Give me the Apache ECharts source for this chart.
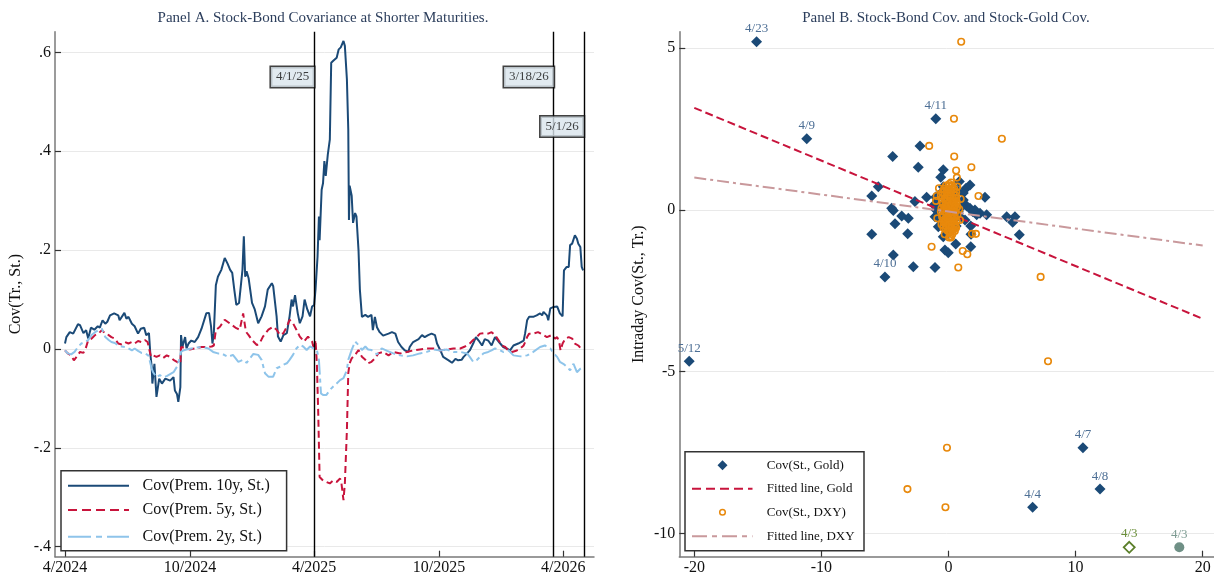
<!DOCTYPE html>
<html>
<head>
<meta charset="utf-8">
<script src="https://cdn.jsdelivr.net/npm/echarts@6/dist/echarts.min.js"></script>
<style>html,body{margin:0;padding:0;background:#fff;}#c{width:1214px;height:574px;}</style>
</head>
<body>
<div id="c"></div>
<script>
// ---------------- DATA ----------------
const tenYear = [['2024-04-01',0.011],['2024-04-03',0.024],['2024-04-08',0.034],['2024-04-13',0.031],['2024-04-20',0.050],['2024-04-23',0.048],['2024-04-28',0.032],['2024-05-02',0.038],['2024-05-05',0.021],['2024-05-09',0.043],['2024-05-14',0.039],['2024-05-19',0.046],['2024-05-22',0.043],['2024-05-26',0.058],['2024-05-30',0.051],['2024-06-02',0.055],['2024-06-06',0.068],['2024-06-08',0.065],['2024-06-12',0.072],['2024-06-18',0.068],['2024-06-20',0.058],['2024-06-27',0.073],['2024-06-30',0.061],['2024-07-03',0.065],['2024-07-08',0.051],['2024-07-12',0.046],['2024-07-17',0.031],['2024-07-21',0.041],['2024-07-26',0.043],['2024-07-29',0.028],['2024-08-02',0.032],['2024-08-04',-0.010],['2024-08-06',-0.036],['2024-08-07',-0.070],['2024-08-10',-0.030],['2024-08-13',-0.097],['2024-08-17',-0.060],['2024-08-21',-0.070],['2024-08-26',-0.060],['2024-09-02',-0.064],['2024-09-07',-0.057],['2024-09-09',-0.084],['2024-09-12',-0.091],['2024-09-14',-0.107],['2024-09-17',-0.077],['2024-09-18',0.028],['2024-09-20',0.004],['2024-09-24',0.024],['2024-09-26',0.001],['2024-09-29',0.011],['2024-10-03',0.017],['2024-10-08',0.014],['2024-10-13',0.024],['2024-10-18',0.041],['2024-10-20',0.038],['2024-10-25',0.072],['2024-10-29',0.073],['2024-11-01',0.045],['2024-11-03',0.011],['2024-11-05',0.031],['2024-11-08',0.129],['2024-11-11',0.146],['2024-11-16',0.160],['2024-11-21',0.184],['2024-11-25',0.173],['2024-11-29',0.160],['2024-12-02',0.154],['2024-12-05',0.120],['2024-12-08',0.089],['2024-12-12',0.093],['2024-12-15',0.133],['2024-12-17',0.160],['2024-12-19',0.228],['2024-12-21',0.146],['2024-12-23',0.157],['2024-12-26',0.143],['2024-12-31',0.093],['2025-01-04',0.080],['2025-01-09',0.052],['2025-01-14',0.066],['2025-01-19',0.086],['2025-01-23',0.120],['2025-01-29',0.133],['2025-01-31',0.127],['2025-02-02',0.127],['2025-02-05',0.066],['2025-02-07',0.025],['2025-02-11',0.015],['2025-02-15',0.028],['2025-02-20',0.032],['2025-02-24',0.066],['2025-02-27',0.100],['2025-03-01',0.086],['2025-03-04',0.109],['2025-03-08',0.072],['2025-03-11',0.052],['2025-03-15',0.066],['2025-03-18',0.100],['2025-03-22',0.080],['2025-03-26',0.066],['2025-03-29',0.086],['2025-04-01',0.089],['2025-04-03',0.120],['2025-04-06',0.187],['2025-04-08',0.268],['2025-04-09',0.220],['2025-04-12',0.322],['2025-04-14',0.335],['2025-04-16',0.380],['2025-04-18',0.350],['2025-04-21',0.393],['2025-04-24',0.424],['2025-04-26',0.579],['2025-04-29',0.583],['2025-05-04',0.589],['2025-05-07',0.606],['2025-05-10',0.610],['2025-05-14',0.623],['2025-05-16',0.613],['2025-05-19',0.545],['2025-05-21',0.444],['2025-05-22',0.261],['2025-05-23',0.330],['2025-05-26',0.310],['2025-05-28',0.255],['2025-05-31',0.275],['2025-06-02',0.268],['2025-06-05',0.200],['2025-06-07',0.120],['2025-06-10',0.065],['2025-06-15',0.069],['2025-06-19',0.065],['2025-06-24',0.069],['2025-06-26',0.038],['2025-06-29',0.065],['2025-07-02',0.044],['2025-07-06',0.034],['2025-07-11',0.027],['2025-07-19',0.031],['2025-07-24',0.034],['2025-07-29',0.031],['2025-08-02',0.014],['2025-08-07',0.004],['2025-08-12',-0.003],['2025-08-17',-0.006],['2025-08-19',0.004],['2025-08-24',0.014],['2025-09-01',0.020],['2025-09-06',0.028],['2025-09-10',0.024],['2025-09-15',0.028],['2025-09-20',0.031],['2025-09-25',0.028],['2025-09-28',0.011],['2025-10-03',-0.003],['2025-10-07',-0.016],['2025-10-15',-0.023],['2025-10-20',-0.028],['2025-10-25',-0.020],['2025-10-29',-0.023],['2025-11-03',-0.022],['2025-11-06',-0.016],['2025-11-11',-0.009],['2025-11-15',-0.003],['2025-11-20',0.011],['2025-11-24',0.024],['2025-11-28',0.017],['2025-12-03',0.007],['2025-12-07',0.020],['2025-12-12',0.017],['2025-12-17',0.007],['2025-12-22',0.024],['2025-12-29',0.012],['2026-01-03',0.004],['2026-01-08',0.001],['2026-01-13',-0.003],['2026-01-18',0.007],['2026-01-25',0.011],['2026-02-02',0.017],['2026-02-04',0.031],['2026-02-07',0.058],['2026-02-10',0.065],['2026-02-16',0.065],['2026-02-21',0.068],['2026-02-26',0.072],['2026-03-01',0.068],['2026-03-03',0.075],['2026-03-08',0.068],['2026-03-10',0.058],['2026-03-13',0.082],['2026-03-18',0.085],['2026-03-23',0.086],['2026-03-25',0.084],['2026-03-27',0.072],['2026-03-31',0.066],['2026-04-02',0.159],['2026-04-06',0.166],['2026-04-09',0.166],['2026-04-11',0.210],['2026-04-14',0.213],['2026-04-16',0.212],['2026-04-18',0.230],['2026-04-21',0.223],['2026-04-23',0.213],['2026-04-26',0.206],['2026-04-28',0.166],['2026-04-30',0.159]];

const fiveYear = [['2024-04-01',-0.003],['2024-04-05',-0.009],['2024-04-10',-0.013],['2024-04-14',-0.023],['2024-04-18',-0.016],['2024-04-23',-0.006],['2024-04-28',-0.008],['2024-05-02',0.004],['2024-05-05',0.018],['2024-05-10',0.021],['2024-05-15',0.028],['2024-05-20',0.031],['2024-05-25',0.038],['2024-05-30',0.031],['2024-06-04',0.028],['2024-06-08',0.024],['2024-06-13',0.021],['2024-06-18',0.011],['2024-06-23',0.009],['2024-06-28',0.014],['2024-07-03',0.011],['2024-07-08',0.014],['2024-07-12',0.011],['2024-07-17',0.016],['2024-07-22',0.014],['2024-07-27',0.018],['2024-07-31',0.014],['2024-08-02',0.011],['2024-08-05',-0.016],['2024-08-08',-0.013],['2024-08-13',-0.016],['2024-08-18',-0.013],['2024-08-23',-0.018],['2024-08-28',-0.013],['2024-09-02',-0.016],['2024-09-07',-0.022],['2024-09-12',-0.026],['2024-09-17',-0.030],['2024-09-18',0.004],['2024-09-20',0.007],['2024-09-25',0.001],['2024-10-01',-0.001],['2024-10-08',0.001],['2024-10-18',0.004],['2024-10-28',0.004],['2024-11-02',0.005],['2024-11-05',0.007],['2024-11-08',0.038],['2024-11-14',0.045],['2024-11-21',0.059],['2024-12-01',0.049],['2024-12-08',0.042],['2024-12-13',0.039],['2024-12-18',0.072],['2024-12-22',0.035],['2024-12-26',0.028],['2024-12-31',0.018],['2025-01-07',0.008],['2025-01-11',0.011],['2025-01-16',0.025],['2025-01-24',0.039],['2025-01-31',0.045],['2025-02-05',0.039],['2025-02-10',0.028],['2025-02-15',0.032],['2025-02-20',0.045],['2025-02-24',0.059],['2025-03-01',0.052],['2025-03-06',0.039],['2025-03-11',0.025],['2025-03-17',0.015],['2025-03-23',0.025],['2025-03-29',0.015],['2025-04-01',-0.002],['2025-04-03',0.018],['2025-04-05',-0.029],['2025-04-07',-0.130],['2025-04-09',-0.259],['2025-04-14',-0.266],['2025-04-19',-0.269],['2025-04-24',-0.272],['2025-04-29',-0.266],['2025-05-04',-0.269],['2025-05-09',-0.262],['2025-05-11',-0.272],['2025-05-14',-0.306],['2025-05-16',-0.272],['2025-05-19',-0.164],['2025-05-21',-0.049],['2025-05-23',-0.029],['2025-05-26',-0.019],['2025-05-31',-0.012],['2025-06-05',-0.002],['2025-06-10',-0.016],['2025-06-15',-0.022],['2025-06-19',-0.029],['2025-06-24',-0.026],['2025-06-29',-0.019],['2025-07-04',-0.009],['2025-07-11',-0.006],['2025-07-19',-0.013],['2025-07-26',-0.006],['2025-08-05',-0.009],['2025-08-15',-0.006],['2025-08-24',-0.003],['2025-09-03',-0.001],['2025-09-13',0.001],['2025-09-23',0.001],['2025-10-03',-0.003],['2025-10-12',-0.001],['2025-10-22',0.001],['2025-11-01',0.001],['2025-11-08',0.005],['2025-11-15',0.011],['2025-11-20',0.018],['2025-11-25',0.024],['2025-11-30',0.031],['2025-12-05',0.032],['2025-12-12',0.031],['2025-12-17',0.034],['2025-12-22',0.028],['2025-12-27',0.018],['2026-01-01',0.007],['2026-01-06',0.004],['2026-01-11',-0.004],['2026-01-16',-0.006],['2026-01-23',-0.003],['2026-01-28',0.001],['2026-02-02',0.007],['2026-02-07',0.024],['2026-02-10',0.031],['2026-02-16',0.031],['2026-02-23',0.034],['2026-03-03',0.028],['2026-03-08',0.024],['2026-03-15',0.028],['2026-03-20',0.021],['2026-03-23',0.024],['2026-03-26',0.014],['2026-03-28',-0.003],['2026-03-31',0.011],['2026-04-04',0.021],['2026-04-09',0.024],['2026-04-14',0.021],['2026-04-18',0.011],['2026-04-23',0.007],['2026-04-27',0.001],['2026-04-30',0.003]];

const twoYear = [['2024-04-01',-0.003],['2024-04-05',-0.009],['2024-04-10',-0.011],['2024-04-15',-0.006],['2024-04-20',0.004],['2024-04-25',0.011],['2024-04-30',0.014],['2024-05-05',0.018],['2024-05-10',0.028],['2024-05-15',0.034],['2024-05-20',0.038],['2024-05-25',0.041],['2024-05-27',0.038],['2024-05-30',0.024],['2024-06-04',0.018],['2024-06-08',0.014],['2024-06-13',0.012],['2024-06-18',0.007],['2024-06-23',0.005],['2024-06-28',0.004],['2024-07-03',0.001],['2024-07-08',-0.003],['2024-07-12',0.001],['2024-07-17',-0.004],['2024-07-22',-0.008],['2024-07-27',-0.009],['2024-08-01',-0.013],['2024-08-03',-0.023],['2024-08-06',-0.040],['2024-08-08',-0.047],['2024-08-13',-0.057],['2024-08-18',-0.053],['2024-08-23',-0.057],['2024-08-28',-0.055],['2024-09-02',-0.051],['2024-09-07',-0.047],['2024-09-12',-0.036],['2024-09-15',-0.023],['2024-09-18',-0.006],['2024-09-21',-0.003],['2024-09-26',-0.001],['2024-10-03',0.001],['2024-10-11',0.003],['2024-10-20',0.004],['2024-10-28',0.001],['2024-11-04',-0.006],['2024-11-11',-0.009],['2024-11-16',-0.009],['2024-11-26',-0.016],['2024-12-03',-0.012],['2024-12-11',-0.026],['2024-12-18',-0.022],['2024-12-23',-0.028],['2024-12-28',-0.019],['2025-01-02',-0.010],['2025-01-09',-0.012],['2025-01-14',-0.022],['2025-01-19',-0.049],['2025-01-24',-0.056],['2025-01-31',-0.056],['2025-02-05',-0.039],['2025-02-10',-0.036],['2025-02-15',-0.032],['2025-02-20',-0.029],['2025-02-24',-0.022],['2025-03-01',-0.012],['2025-03-06',0.001],['2025-03-11',0.008],['2025-03-16',0.005],['2025-03-21',-0.002],['2025-03-26',0.005],['2025-03-31',0.001],['2025-04-05',-0.002],['2025-04-08',-0.022],['2025-04-11',-0.090],['2025-04-14',-0.093],['2025-04-19',-0.093],['2025-04-24',-0.083],['2025-04-29',-0.076],['2025-05-04',-0.070],['2025-05-09',-0.063],['2025-05-14',-0.059],['2025-05-19',-0.043],['2025-05-21',-0.022],['2025-05-26',-0.002],['2025-05-31',0.015],['2025-06-05',0.008],['2025-06-10',-0.002],['2025-06-15',0.005],['2025-06-19',-0.001],['2025-06-24',-0.002],['2025-06-27',-0.006],['2025-07-02',-0.011],['2025-07-09',0.001],['2025-07-17',-0.004],['2025-07-26',-0.009],['2025-08-05',-0.013],['2025-08-15',-0.015],['2025-08-24',-0.013],['2025-09-03',-0.009],['2025-09-13',-0.006],['2025-09-23',-0.001],['2025-10-03',-0.003],['2025-10-12',-0.001],['2025-10-22',-0.006],['2025-11-01',-0.006],['2025-11-11',-0.009],['2025-11-15',-0.016],['2025-11-20',-0.026],['2025-11-25',-0.023],['2025-11-30',-0.016],['2025-12-05',-0.009],['2025-12-12',-0.006],['2025-12-17',-0.003],['2025-12-22',0.001],['2025-12-27',-0.001],['2026-01-03',-0.006],['2026-01-11',-0.003],['2026-01-18',-0.013],['2026-01-28',-0.015],['2026-02-07',-0.013],['2026-02-16',-0.006],['2026-02-26',0.004],['2026-03-05',0.007],['2026-03-13',0.001],['2026-03-18',-0.009],['2026-03-23',-0.016],['2026-03-27',-0.026],['2026-04-01',-0.030],['2026-04-06',-0.036],['2026-04-11',-0.043],['2026-04-16',-0.030],['2026-04-21',-0.047],['2026-04-26',-0.040],['2026-04-30',-0.036]];

const seriesNamesA = ['Cov(Prem. 10y, St.)', 'Cov(Prem. 5y, St.)', 'Cov(Prem. 2y, St.)'];
const eventLines = [['2025-04-01', '4/1/25', 0.55], ['2026-03-18', '3/18/26', 0.55], ['2026-05-01', '5/1/26', 0.45]];
const xTickDatesA = ['2024-04-01', '2024-10-01', '2025-04-01', '2025-10-01', '2026-04-01'];
const yTicksA = [-0.4, -0.2, 0, 0.2, 0.4, 0.6];

// Panel B: [x = Cov(St., Gold or DXY), y = Intraday Cov(St., Tr.), label]
const goldPoints = [[-15.1,5.2,'4/23'],[-11.15,2.2,'4/9'],[-1.0,2.82,'4/11'],[-5.0,-2.07,'4/10'],[-20.4,-4.68,'5/12'],[10.58,-7.35,'4/7'],[11.92,-8.63,'4/8'],[6.62,-9.19,'4/4'],
 [-2.24,1.98],[-4.39,1.65],[-2.38,1.32],[-0.41,1.24],[-0.61,1.01],[-5.52,0.72],[-6.04,0.43],[-2.64,0.26],[-1.72,0.39],[-0.98,0.41],[-4.47,0.05],[-4.34,-0.02],[-3.68,-0.19],[-3.16,-0.26],[-4.21,-0.43],[-6.04,-0.75],[-3.21,-0.74],[-4.34,-1.39],[-2.77,-1.76],[-1.06,-1.78],[-0.28,-1.24],[-0.02,-1.32],[-0.41,-0.83],[0.57,-1.05],[1.75,-1.14],[1.77,-0.75],[1.75,-0.5],[2.87,0.39],[0.85,0.88],[1.38,0.67],[1.69,0.77],[-0.41,0.72],[-0.54,0.54],[1.16,0.52],[4.58,-0.21],[5.23,-0.21],[5.05,-0.38],[5.57,-0.77],[2.48,-0.1],[3.0,-0.15],[2.08,0],[1.69,0.05],[1.43,0.12],[1.04,0.1],[0.77,-0.05],[0.9,-0.21],[1.3,-0.31],[0.38,-0.31],[-0.8,-0.52],[-0.67,-0.26],[-1.06,-0.21],[-0.98,0],[-1.14,0.15],[-0.09,-0.52],[-0.02,-0.72],[0.12,-0.1],[1.16,0.31],[0.65,0.62],[2.22,-0.15],[1.9,-0.05],[-0.93,0.36],[-0.2,0.31],
 [-0.3,0.2],[0.3,-0.2],[0.5,0.4],[-0.5,-0.3],[0.2,0.1],[-0.1,-0.1],[0.6,-0.5],[-0.6,0.1],[0.1,0.5],[-0.2,-0.6]];
const dxyPoints = [[1.0,5.2],[0.43,2.82],[4.2,2.2],[-1.52,1.98],[0.45,1.65],[1.8,1.32],[0.6,1.22],[0.66,1.0],[2.36,0.43],[7.25,-2.07],[7.83,-4.68],[-0.12,-7.35],[-3.23,-8.63],[-0.24,-9.19],[-1.33,-1.14],[1.12,-1.27],[1.48,-1.37],[0.77,-1.78],[2.16,-0.74],[1.85,-0.74],[0.17,-0.81],
 [0.07,0.8],[0.69,0.72],[-0.75,0.67],[-0.93,0.43],[-0.98,0.28],[0.96,0.34],[0.85,0.02],[0.9,-0.31],[-0.88,-0.26],
 [-0.1,0.62],[0.2,0.55],[-0.3,0.48],[0.05,0.41],[0.35,0.37],[-0.2,0.3],[0.1,0.25],[0.45,0.2],[-0.45,0.18],[-0.05,0.12],[0.25,0.08],[0.6,0.05],[-0.35,0.02],[0.0,-0.03],[0.3,-0.07],[-0.15,-0.12],[0.15,-0.16],[0.5,-0.2],[-0.5,-0.22],[-0.25,-0.27],[0.05,-0.3],[0.4,-0.34],[-0.1,-0.4],[0.2,-0.45],[-0.4,-0.48],[0.55,-0.5],[0.0,-0.55],[-0.2,-0.6],[0.3,-0.62],[0.1,-0.7],[-0.6,-0.05],[0.7,0.1],[-0.55,0.35],[0.65,-0.35],[0.1,0.05],[-0.05,-0.2],[0.15,0.45],[-0.3,-0.05],[0.4,0.3],[-0.15,0.55],[0.25,0.65],[0.0,0.75],[-0.35,-0.4],[0.45,-0.6],[0.2,-0.25],[-0.1,0.2],[0.3,0.15],[-0.2,-0.5],[0.05,-0.85],[0.2,0.85],
 [-0.2,0.75],[0.3,0.75],[-0.35,0.65],[0.05,0.65],[0.45,0.65],[-0.45,0.55],[0.4,0.55],[0.6,0.55],[-0.6,0.45],[-0.05,0.45],[0.55,0.45],[-0.3,0.35],[0.15,0.35],[0.6,0.35],[-0.5,0.25],[0.35,0.25],[0.65,0.25],[-0.25,0.15],[0.15,0.15],[0.55,0.15],[-0.55,0.05],[-0.15,0.05],[0.45,0.05],[0.2,-0.05],[0.55,-0.05],[-0.45,-0.15],[0.35,-0.15],[0.7,-0.15],[-0.1,-0.25],[0.45,-0.25],[-0.3,-0.35],[0.2,-0.35],[0.6,-0.35],[-0.55,-0.45],[0.05,-0.45],[0.45,-0.45],[-0.4,-0.55],[0.25,-0.55],[0.6,-0.55],[-0.05,-0.65],[0.5,-0.65],[-0.3,-0.75],[0.3,-0.75],[0.2,-0.85]];
const goldSpecial = [[14.22,-10.43,'4/3']];
const dxySpecial = [[18.16,-10.43,'4/3']];
const goldFit = {intercept: -0.105, slope: -0.163};
const dxyFit = {intercept: -0.05, slope: -0.0525};
const fitRange = [-20, 20];
const seriesNamesB = ['Cov(St., Gold)', 'Fitted line, Gold', 'Cov(St., DXY)', 'Fitted line, DXY'];
const xTicksB = [-20, -10, 0, 10, 20];
const yTicksB = [-10, -5, 0, 5];

// ---------------- CHART ----------------
const FONT = '"Liberation Serif", "Times New Roman", serif';
const DAY = 86400000;
const ts = d => Date.parse(d);
const C10 = '#1b4a77', C5 = '#c8143c', C2 = '#8ec4ea', CGOLD = '#1b4a77', CDXY = '#e8890c', CFITD = '#c9999c';
const AXC = '#7a7a7a';

const chart = echarts.init(document.getElementById('c'), null, {renderer: 'canvas'});
const line = p => [ts(p[0]), p[1]];
const fitPts = f => fitRange.map(x => [x, f.intercept + f.slope * x]);
const fmtY = v => v === 0 ? '0' : v.toFixed(1).replace('0.', '.');

const axisCommon = {
  axisLine: {show: true, onZero: false, lineStyle: {color: AXC, width: 1.5}},
  splitLine: {show: false}
};

const labelItems = (arr, color) => arr.map(p => p[2]
  ? {value: [p[0], p[1]], label: {show: true, formatter: p[2], position: 'top', distance: 1, color: color, fontFamily: FONT, fontSize: 13}}
  : [p[0], p[1]]);

const option = {
  animation: false,
  backgroundColor: '#fff',
  grid: [
    {left: 55, top: 31.7, width: 539, height: 525, outerBoundsMode: 'none', containLabel: false},
    {left: 679.3, top: 31.7, width: 534.7, height: 525, outerBoundsMode: 'none', containLabel: false}
  ],
  xAxis: [
    Object.assign({}, axisCommon, {
      type: 'value', gridIndex: 0,
      min: ts('2024-04-01') - 14.65 * DAY, max: ts('2024-04-01') + 775 * DAY,
      axisTick: {show: true, inside: true, length: 6, customValues: xTickDatesA.map(ts), lineStyle: {color: '#333', width: 1.2}},
      axisLabel: {customValues: xTickDatesA.map(ts), margin: 3, fontFamily: FONT, fontSize: 16, color: '#111',
        formatter: v => { const d = new Date(v); return (d.getUTCMonth() + 1) + '/' + d.getUTCFullYear(); }}
    }),
    Object.assign({}, axisCommon, {
      type: 'value', gridIndex: 1, min: -21.18, max: 20.89,
      axisTick: {show: true, inside: true, length: 6, customValues: xTicksB, lineStyle: {color: '#333', width: 1.2}},
      axisLabel: {customValues: xTicksB, margin: 3, fontFamily: FONT, fontSize: 16, color: '#111'}
    })
  ],
  yAxis: [
    Object.assign({}, axisCommon, {
      type: 'value', gridIndex: 0, min: -0.4202, max: 0.6417,
      name: 'Cov(Tr., St.)', nameLocation: 'middle', nameGap: 31, nameRotate: 90,
      nameTextStyle: {fontFamily: FONT, fontSize: 16, color: '#111'},
      axisTick: {show: true, inside: true, length: 6, customValues: yTicksA, lineStyle: {color: '#333', width: 1.2}},
      axisLabel: {customValues: yTicksA, margin: 4, fontFamily: FONT, fontSize: 16, color: '#111', formatter: fmtY},
      splitLine: {show: true, lineStyle: {color: '#e9e9e9', width: 1}}
    }),
    Object.assign({}, axisCommon, {
      type: 'value', gridIndex: 1, min: -10.72, max: 5.51,
      name: 'Intraday Cov(St., Tr.)', nameLocation: 'middle', nameGap: 33, nameRotate: 90,
      nameTextStyle: {fontFamily: FONT, fontSize: 16, color: '#111'},
      axisTick: {show: true, inside: true, length: 6, customValues: yTicksB, lineStyle: {color: '#333', width: 1.2}},
      axisLabel: {customValues: yTicksB, margin: 4, fontFamily: FONT, fontSize: 16, color: '#111'},
      splitLine: {show: true, lineStyle: {color: '#e9e9e9', width: 1}}
    })
  ],
  series: [
    {name: seriesNamesA[0], type: 'line', xAxisIndex: 0, yAxisIndex: 0, symbol: 'none', data: tenYear.map(line),
      lineStyle: {color: C10, width: 2}, z: 3},
    {name: seriesNamesA[1], type: 'line', xAxisIndex: 0, yAxisIndex: 0, symbol: 'none', data: fiveYear.map(line),
      lineStyle: {color: C5, width: 2, type: [7, 4]}, z: 4},
    {name: seriesNamesA[2], type: 'line', xAxisIndex: 0, yAxisIndex: 0, symbol: 'none', data: twoYear.map(line),
      lineStyle: {color: C2, width: 2, type: [16, 4, 4, 4]}, z: 5,
      markLine: {silent: true, symbol: 'none', label: {show: false},
        lineStyle: {color: '#000', width: 1.4, type: 'solid'},
        data: eventLines.map(e => ({xAxis: ts(e[0])}))}},
    {type: 'scatter', xAxisIndex: 0, yAxisIndex: 0, symbolSize: 0, z: 10,
      data: eventLines.map(e => ({value: [ts(e[0]), e[2]], name: e[1]})),
      label: {show: true, position: 'left', distance: 0, formatter: p => p.name,
        backgroundColor: '#dae5ec', borderColor: '#111', borderWidth: 1.5, padding: [4, 5, 3, 5],
        fontFamily: FONT, fontSize: 13, color: '#111'}},
    {name: seriesNamesB[0], type: 'scatter', xAxisIndex: 1, yAxisIndex: 1, symbol: 'diamond', symbolSize: 11,
      itemStyle: {color: CGOLD, opacity: 1}, data: labelItems(goldPoints, '#4d6f95'), z: 3},
    {name: seriesNamesB[1], type: 'line', xAxisIndex: 1, yAxisIndex: 1, symbol: 'none', data: fitPts(goldFit),
      lineStyle: {color: C5, width: 2, type: [8, 4]}, z: 4},
    {name: seriesNamesB[2], type: 'scatter', xAxisIndex: 1, yAxisIndex: 1, symbol: 'circle', symbolSize: 6.5,
      itemStyle: {color: 'rgba(255,255,255,0)', borderColor: CDXY, borderWidth: 1.6, opacity: 1}, data: dxyPoints, z: 5},
    {name: seriesNamesB[3], type: 'line', xAxisIndex: 1, yAxisIndex: 1, symbol: 'none', data: fitPts(dxyFit),
      lineStyle: {color: CFITD, width: 2, type: [12, 4, 3, 4]}, z: 6},
    {type: 'scatter', xAxisIndex: 1, yAxisIndex: 1, symbol: 'diamond', symbolSize: 11,
      itemStyle: {color: 'rgba(255,255,255,0)', borderColor: '#5b7f2a', borderWidth: 1.8, opacity: 1},
      data: labelItems(goldSpecial, '#6b8f3a'), z: 6},
    {type: 'scatter', xAxisIndex: 1, yAxisIndex: 1, symbol: 'circle', symbolSize: 10,
      itemStyle: {color: '#6f9086', opacity: 1}, data: labelItems(dxySpecial, '#7e9c93'), z: 6}
  ],
  graphic: [
    {type: 'text', x: 323, y: 18, z: 100, style: {text: 'Panel A. Stock-Bond Covariance at Shorter Maturities.', fill: '#2c3e5c', font: '15px ' + FONT, textAlign: 'center', textVerticalAlign: 'middle'}},
    {type: 'text', x: 946, y: 18, z: 100, style: {text: 'Panel B. Stock-Bond Cov. and Stock-Gold Cov.', fill: '#2c3e5c', font: '15px ' + FONT, textAlign: 'center', textVerticalAlign: 'middle'}},
    // Legend A
    {type: 'rect', z: 100, shape: {x: 61, y: 470.7, width: 225.6, height: 80}, style: {fill: '#fff', stroke: '#333', lineWidth: 1.5}},
    {type: 'line', z: 101, shape: {x1: 68, y1: 485.7, x2: 129, y2: 485.7}, style: {stroke: C10, lineWidth: 2}},
    {type: 'line', z: 101, shape: {x1: 68, y1: 510, x2: 129, y2: 510}, style: {stroke: C5, lineWidth: 2, lineDash: [9, 5]}},
    {type: 'line', z: 101, shape: {x1: 68, y1: 536.7, x2: 129, y2: 536.7}, style: {stroke: C2, lineWidth: 2, lineDash: [23, 5, 6, 5]}},
    {type: 'text', z: 101, x: 142.5, y: 485.7, style: {text: seriesNamesA[0], font: '16px ' + FONT, fill: '#111', textVerticalAlign: 'middle'}},
    {type: 'text', z: 101, x: 142.5, y: 510, style: {text: seriesNamesA[1], font: '16px ' + FONT, fill: '#111', textVerticalAlign: 'middle'}},
    {type: 'text', z: 101, x: 142.5, y: 536.7, style: {text: seriesNamesA[2], font: '16px ' + FONT, fill: '#111', textVerticalAlign: 'middle'}},
    // Legend B
    {type: 'rect', z: 100, shape: {x: 685, y: 451.7, width: 179, height: 99}, style: {fill: '#fff', stroke: '#333', lineWidth: 1.5}},
    {type: 'polygon', z: 101, shape: {points: [[722.5, 460.3], [727.5, 465.3], [722.5, 470.3], [717.5, 465.3]]}, style: {fill: CGOLD}},
    {type: 'line', z: 101, shape: {x1: 692, y1: 488.7, x2: 752.5, y2: 488.7}, style: {stroke: C5, lineWidth: 2, lineDash: [9, 5]}},
    {type: 'circle', z: 101, shape: {cx: 722.5, cy: 512.3, r: 2.8}, style: {fill: 'none', stroke: CDXY, lineWidth: 1.5}},
    {type: 'line', z: 101, shape: {x1: 692, y1: 536.3, x2: 752.5, y2: 536.3}, style: {stroke: CFITD, lineWidth: 2, lineDash: [15, 5, 5, 5]}},
    {type: 'text', z: 101, x: 766.8, y: 465.3, style: {text: seriesNamesB[0], font: '13px ' + FONT, fill: '#111', textVerticalAlign: 'middle'}},
    {type: 'text', z: 101, x: 766.8, y: 488.7, style: {text: seriesNamesB[1], font: '13px ' + FONT, fill: '#111', textVerticalAlign: 'middle'}},
    {type: 'text', z: 101, x: 766.8, y: 512.3, style: {text: seriesNamesB[2], font: '13px ' + FONT, fill: '#111', textVerticalAlign: 'middle'}},
    {type: 'text', z: 101, x: 766.8, y: 536.3, style: {text: seriesNamesB[3], font: '13px ' + FONT, fill: '#111', textVerticalAlign: 'middle'}}
  ]
};
chart.setOption(option);
</script>
</body>
</html>
